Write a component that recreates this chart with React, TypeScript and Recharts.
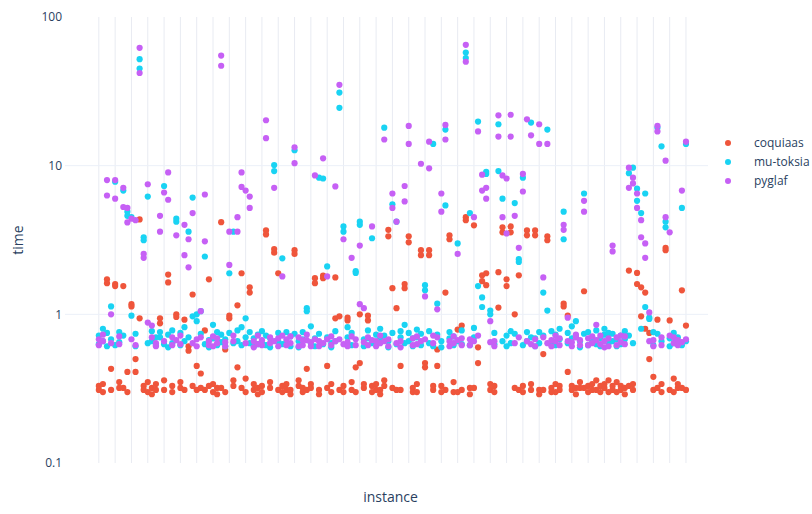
import { ScatterChart, Scatter, XAxis, YAxis, CartesianGrid, Label } from "recharts";

// Solve times per instance: two runs for each solver
const coquiaas: [number, number][] = [
  [0.31, 0.33], [0.30, 0.34], [1.72, 1.62], [0.43, 0.31], [1.60, 1.55],
  [0.32, 0.35], [1.55, 0.32], [0.41, 0.30], [1.17, 1.13], [0.50, 0.41],
  [4.35, 0.94], [0.33, 0.31], [0.30, 0.35], [0.32, 0.29], [0.34, 0.31],
  [0.94, 0.87], [0.31, 0.36], [1.85, 1.64], [0.30, 0.33], [1.00, 0.96],
  [0.32, 0.35], [0.92, 0.31], [0.61, 0.57], [1.36, 0.33], [0.45, 0.31],
  [0.40, 0.32], [0.78, 0.31], [1.72, 0.33], [0.30, 0.34], [0.32, 0.29],
  [4.17, 0.32], [0.58, 0.30], [0.98, 0.94], [0.33, 0.36], [1.15, 0.44],
  [1.89, 0.32], [0.37, 0.30], [1.52, 1.40], [0.31, 0.34], [0.29, 0.32],
  [0.33, 0.30], [3.67, 3.45], [0.32, 0.35], [2.75, 2.60], [1.89, 0.31],
  [0.30, 0.33], [0.34, 0.31], [0.31, 0.29], [2.70, 2.55], [0.33, 0.36],
  [0.30, 0.32], [0.43, 0.31], [0.32, 0.34], [1.75, 1.62], [0.31, 0.29],
  [1.82, 1.75], [0.45, 0.32], [0.30, 0.34], [1.77, 0.94], [0.97, 0.31],
  [0.33, 0.30], [0.95, 0.91], [0.31, 0.35], [0.44, 0.30], [1.00, 0.47],
  [0.32, 0.34], [0.98, 0.91], [0.30, 0.33], [0.34, 0.31], [0.31, 0.29],
  [0.33, 0.36], [3.70, 3.35], [1.50, 0.32], [1.10, 0.31], [0.45, 0.31],
  [1.60, 1.50], [3.35, 3.05], [0.32, 0.30], [0.30, 0.34], [2.70, 2.50],
  [0.47, 0.44], [2.70, 2.50], [0.31, 0.33], [0.58, 0.45], [0.33, 0.30],
  [1.40, 0.31], [3.40, 3.20], [0.30, 0.35], [0.79, 0.30], [0.84, 0.31],
  [4.50, 4.30], [0.32, 0.29], [3.97, 0.32], [0.60, 0.47], [1.83, 1.67],
  [1.89, 1.57], [0.31, 0.34], [0.33, 0.30], [1.92, 1.11], [3.85, 3.56],
  [1.72, 1.55], [3.90, 3.56], [1.00, 0.32], [1.83, 0.31], [0.30, 0.33],
  [3.67, 3.40], [0.34, 0.31], [3.67, 3.40], [0.31, 0.29], [0.54, 0.31],
  [3.35, 3.15], [0.32, 0.30], [0.30, 0.34], [0.33, 0.31], [1.18, 1.13],
  [0.98, 0.41], [0.31, 0.33], [0.29, 0.32], [0.32, 0.35], [1.43, 0.32],
  [0.30, 0.33], [0.34, 0.31], [0.31, 0.36], [0.33, 0.30], [0.32, 0.34],
  [0.36, 0.30], [0.31, 0.33], [0.30, 0.35], [0.33, 0.31], [0.32, 0.29],
  [1.97, 0.33], [0.31, 0.34], [1.90, 1.60], [1.52, 0.97], [1.40, 0.80],
  [0.75, 0.50], [0.38, 0.31], [0.92, 0.32], [0.30, 0.34], [2.80, 2.70],
  [0.91, 0.31], [0.37, 0.30], [0.32, 0.34], [1.45, 0.32], [0.84, 0.31],
];

const muToksia: [number, number][] = [
  [0.63, 0.72], [0.80, 0.66], [0.61, 0.75], [1.13, 0.68], [7.80, 0.62],
  [0.65, 0.76], [6.80, 0.72], [4.90, 4.60], [4.50, 0.98], [0.74, 0.61],
  [52, 45], [3.30, 3.15], [6.20, 0.64], [0.77, 0.66], [0.62, 0.70],
  [0.70, 0.76], [7.30, 0.63], [0.60, 0.73], [0.64, 0.78], [4.40, 4.20],
  [0.75, 0.62], [0.66, 0.82], [3.60, 0.70], [6.10, 0.97], [1.00, 0.90],
  [1.05, 0.74], [2.45, 0.63], [0.67, 0.60], [0.85, 0.69], [0.62, 0.76],
  [0.73, 0.65], [0.68, 0.61], [1.89, 0.75], [3.60, 0.64], [0.78, 0.66],
  [0.82, 0.62], [0.94, 0.70], [0.64, 0.76], [0.61, 0.69], [0.73, 0.63],
  [0.77, 0.64], [0.62, 0.72], [0.69, 0.60], [10.1, 9.20], [0.75, 0.66],
  [2.38, 0.63], [0.65, 0.76], [0.71, 0.61], [12.7, 0.74], [0.66, 0.60],
  [0.76, 0.68], [1.10, 1.05], [0.83, 0.64], [0.69, 0.61], [8.30, 0.74],
  [8.20, 0.63], [2.10, 0.70], [0.64, 0.60], [0.77, 0.66], [31, 24.5],
  [3.90, 3.60], [0.70, 0.82], [0.62, 0.75], [1.95, 1.90], [4.20, 4.00],
  [0.68, 0.61], [0.78, 0.69], [3.25, 0.64], [0.63, 0.73], [0.69, 0.80],
  [18.0, 0.72], [0.66, 0.60], [5.50, 0.75], [4.20, 0.63], [0.70, 0.77],
  [0.64, 0.85], [0.75, 0.66], [0.61, 0.69], [0.70, 0.79], [0.74, 0.62],
  [1.57, 1.45], [0.77, 0.64], [14.0, 0.61], [1.18, 0.73], [0.66, 0.60],
  [17.5, 5.40], [0.69, 0.76], [0.62, 0.71], [3.00, 0.66], [0.78, 0.63],
  [57.6, 53.0], [4.80, 0.62], [0.70, 0.81], [19.8, 1.55], [1.30, 1.12],
  [9.10, 8.80], [1.06, 1.00], [0.63, 0.75], [19.0, 9.20], [6.00, 0.66],
  [0.72, 0.61], [0.77, 0.64], [5.60, 0.74], [2.35, 2.25], [8.30, 0.62],
  [0.66, 0.76], [19.5, 0.70], [0.69, 0.61], [0.76, 0.64], [1.40, 0.72],
  [17.5, 1.06], [0.63, 0.77], [0.73, 0.62], [0.68, 0.80], [4.90, 3.20],
  [0.75, 0.64], [0.83, 0.69], [0.90, 0.72], [0.66, 0.60], [6.50, 0.74],
  [0.62, 0.76], [0.65, 0.70], [0.78, 0.63], [0.69, 0.61], [0.80, 0.73],
  [0.64, 0.75], [0.74, 0.66], [0.61, 0.68], [0.72, 0.63], [0.68, 0.77],
  [8.90, 0.72], [9.70, 0.64], [7.00, 5.80], [4.80, 0.80], [6.50, 1.12],
  [0.95, 0.93], [0.62, 0.76], [18.0, 0.74], [13.5, 0.66], [4.20, 3.85],
  [0.69, 0.61], [0.75, 0.64], [0.63, 0.70], [5.20, 0.62], [14.0, 0.66],
];

const pyglaf: [number, number][] = [
  [0.62, 0.68], [0.66, 0.73], [8.00, 6.30], [1.00, 0.64], [8.00, 6.00],
  [0.71, 0.63], [7.10, 5.27], [5.20, 4.15], [4.40, 0.68], [4.30, 0.62],
  [62, 42], [2.55, 2.40], [7.50, 0.88], [0.84, 0.70], [0.64, 0.61],
  [4.60, 3.60], [6.60, 0.66], [9.00, 5.90], [0.70, 0.62], [3.40, 0.67],
  [0.63, 0.72], [4.00, 2.50], [3.20, 2.07], [4.80, 0.64], [0.68, 0.61],
  [1.05, 0.70], [6.40, 3.10], [0.66, 0.62], [0.61, 0.71], [0.69, 0.64],
  [55, 47], [0.65, 0.61], [3.60, 2.15], [0.72, 0.66], [4.50, 3.60],
  [9.00, 7.20], [6.80, 0.64], [6.20, 5.20], [0.66, 0.60], [0.63, 0.72],
  [0.67, 0.62], [20.2, 15.3], [0.64, 0.70], [7.10, 0.66], [0.61, 0.69],
  [1.80, 0.72], [0.68, 0.62], [0.64, 0.71], [13.3, 10.4], [0.70, 0.61],
  [0.62, 0.67], [0.67, 0.73], [0.61, 0.65], [8.60, 0.68], [0.66, 0.61],
  [11.2, 0.64], [1.80, 0.68], [0.71, 0.62], [7.25, 0.66], [35, 0.68],
  [3.20, 0.63], [0.65, 0.61], [2.40, 0.71], [0.68, 0.62], [2.90, 1.17],
  [1.10, 0.65], [0.62, 0.70], [3.90, 0.67], [0.66, 0.61], [0.72, 0.64],
  [15.0, 0.66], [0.61, 0.68], [6.50, 5.20], [4.20, 0.64], [0.66, 0.60],
  [7.30, 5.75], [18.5, 14.0], [0.69, 0.62], [0.63, 0.71], [10.3, 0.66],
  [1.32, 0.68], [14.5, 9.60], [0.64, 0.72], [1.08, 0.70], [6.50, 4.90],
  [18.8, 15.0], [0.66, 0.61], [0.71, 0.64], [2.55, 0.67], [0.62, 0.69],
  [65, 50], [0.68, 0.62], [4.50, 0.66], [17.0, 0.72], [8.70, 6.80],
  [7.10, 6.00], [0.90, 0.65], [0.66, 0.61], [21.8, 15.7], [8.60, 4.50],
  [8.20, 3.50], [22.0, 15.7], [4.60, 0.64], [2.80, 0.70], [8.80, 6.70],
  [20.5, 0.66], [16.0, 0.63], [0.68, 0.61], [19.0, 14.0], [1.77, 0.70],
  [14.0, 0.64], [0.67, 0.61], [0.72, 0.66], [0.62, 0.69], [4.00, 3.70],
  [0.95, 0.66], [0.65, 0.61], [0.70, 0.73], [0.62, 0.67], [5.80, 4.90],
  [0.69, 0.62], [0.64, 0.71], [0.85, 0.67], [0.72, 0.63], [0.66, 0.60],
  [0.61, 0.69], [2.90, 2.65], [0.70, 0.62], [0.65, 0.72], [0.71, 0.63],
  [9.70, 7.10], [8.30, 7.60], [6.50, 5.20], [4.30, 3.30], [3.00, 2.40],
  [1.03, 0.66], [0.67, 0.61], [18.5, 17.0], [0.70, 0.62], [10.8, 4.50],
  [3.56, 0.72], [0.64, 0.70], [0.62, 0.67], [6.80, 0.65], [14.5, 0.68],
];

const solverNames = ["coquiaas", "mu-toksia", "pyglaf"];
const solverColors = ["#EF553B", "#19D3F3", "#C660F5"];
const yTicks = [0.1, 1, 10, 100];

const FONT = "'Open Sans', verdana, arial, sans-serif";
const TEXT = "#2a3f5f";
const X_DOMAIN: [number, number] = [-8.3, 149.4];

// one category tick every 4 instances
const xGridTicks = coquiaas.map((_, i) => i).filter((i) => i % 4 === 0);

const toPoints = (runs: [number, number][]) =>
  runs.flatMap(([a, b], i) => [
    { x: i, y: a },
    { x: i, y: b },
  ]);

const series = [coquiaas, muToksia, pyglaf].map((runs, k) => ({
  name: solverNames[k],
  color: solverColors[k],
  points: toPoints(runs),
}));

const Dot = (props: any) => (
  <circle cx={props.cx} cy={props.cy} r={3.1} fill={props.fill} />
);

// vertical category lines, placed in the plot area's pixel space
const categoryLines = ({ offset }: any) => {
  const span = X_DOMAIN[1] - X_DOMAIN[0];
  return xGridTicks.map((t) => offset.left + ((t - X_DOMAIN[0]) / span) * offset.width);
};

export default function App() {
  return (
    <div style={{ position: "absolute", left: 0, top: 0, width: 812, height: 514, background: "#fff" }}>
      <ScatterChart width={812} height={514} margin={{ top: 17, right: 104, bottom: 0, left: 0 }}>
        <CartesianGrid stroke="#E8EBF2" horizontal={false} verticalCoordinatesGenerator={categoryLines} />
        <CartesianGrid stroke="#EBF0F8" vertical={false} horizontalValues={[1, 10]} />
        <XAxis
          type="number"
          dataKey="x"
          domain={X_DOMAIN}
          allowDataOverflow
          ticks={xGridTicks}
          tick={false}
          axisLine={false}
          tickLine={false}
          height={51}
        >
          <Label
            value="instance"
            position="insideBottom"
            offset={12}
            dx={4}
            style={{ fontSize: 14, fill: TEXT, fontFamily: FONT }}
          />
        </XAxis>
        <YAxis
          type="number"
          dataKey="y"
          scale="log"
          domain={[0.1, 100]}
          allowDataOverflow
          ticks={yTicks}
          width={65}
          axisLine={false}
          tickLine={false}
          tickSize={0}
          tickMargin={3}
          tickFormatter={(v: number) => String(v)}
          tick={{ fontSize: 12, fill: TEXT, fontFamily: FONT }}
        >
          <Label
            value="time"
            position="center"
            angle={-90}
            dx={-14.5}
            style={{ fontSize: 14, fill: TEXT, fontFamily: FONT }}
          />
        </YAxis>
        {series.map((s) => (
          <Scatter
            key={s.name}
            name={s.name}
            data={s.points}
            fill={s.color}
            shape={Dot}
            isAnimationActive={false}
          />
        ))}
      </ScatterChart>
      <div style={{ position: "absolute", left: 722, top: 133, fontFamily: FONT, fontSize: 12, color: TEXT }}>
        {series.map((s) => (
          <div key={s.name} style={{ display: "flex", alignItems: "center", height: 19 }}>
            <span
              style={{
                display: "inline-block",
                width: 6,
                height: 6,
                borderRadius: 3,
                background: s.color,
                margin: "0 23px 0 3px",
              }}
            />
            {s.name}
          </div>
        ))}
      </div>
    </div>
  );
}
